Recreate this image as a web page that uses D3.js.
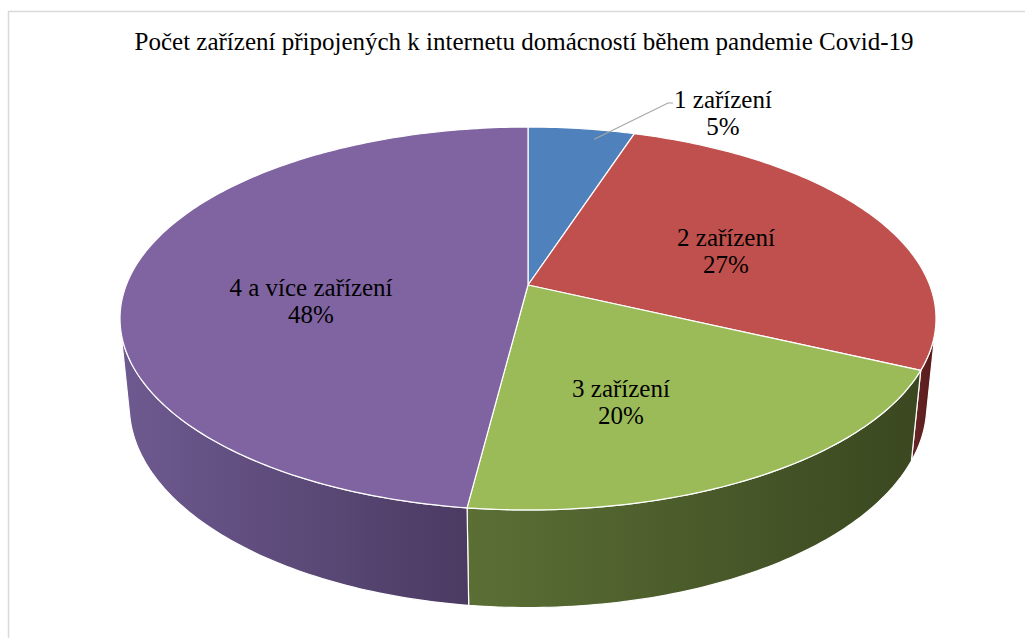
<!DOCTYPE html>
<html>
<head>
<meta charset="utf-8">
<script src="https://cdn.jsdelivr.net/npm/d3@7"></script>
<style>
  html, body { margin: 0; padding: 0; background: #fff; }
  svg { display: block; }
</style>
</head>
<body>
<svg id="chart" width="1025" height="638"></svg>
<script>
// ---- data ----
const title = "Počet zařízení připojených k internetu domácností během pandemie Covid-19";
const categories = ["1 zařízení", "2 zařízení", "3 zařízení", "4 a více zařízení"];
const values = [5, 27, 20, 48];
const percentLabels = ["5%", "27%", "20%", "48%"];

// ---- styles ----
const FONT = "Liberation Serif";
const topColors  = ["#4f81bd", "#c0504d", "#9bbb59", "#8064a2"];
const sideLight  = ["#3c5f8c", "#6a2525", "#5b6f35", "#6e5a90"];
const sideDark   = ["#2c4870", "#551b1b", "#3a4720", "#4b3a62"];

const svg = d3.select("#chart");

// frame
svg.append("rect").attr("x", 8.5).attr("y", 11.5).attr("width", 1030).attr("height", 640)
  .attr("fill", "none").attr("stroke", "#d9d9d9").attr("stroke-width", 1.5);

// title
svg.append("text").attr("x", 524).attr("y", 50).attr("text-anchor", "middle")
  .style("font-family", FONT).attr("font-size", 25).attr("fill", "#000").text(title);

// ---- perspective projection of a flat cylinder ----
const cx = 528, cy = 285;
const phi = 27.52 * Math.PI / 180;
const Dcam = 5.068, focal = 2035.8, thick = 0.2463;
function proj(theta, r, z) {
  const X = r * Math.sin(theta), Y = -r * Math.cos(theta);
  const d = Dcam - Y * Math.cos(phi) - z * Math.sin(phi);
  return [cx + focal * X / d, cy + focal * (Y * Math.sin(phi) - z * Math.cos(phi)) / d];
}

const pie = d3.pie().sort(null).startAngle(0).endAngle(2 * Math.PI);
const arcs = pie(values);
const line = d3.line();

// gradients
const defs = svg.append("defs");
arcs.forEach((a, i) => {
  const g = defs.append("linearGradient").attr("id", "side" + i)
    .attr("x1", "0%").attr("x2", "100%").attr("y1", "0%").attr("y2", "0%");
  g.append("stop").attr("offset", "0%").attr("stop-color", sideLight[i]);
  g.append("stop").attr("offset", "100%").attr("stop-color", sideDark[i]);
});

// visible part of outer wall
const lim = Math.acos(-1 / (Dcam * Math.cos(phi)));
const vis0 = lim, vis1 = 2 * Math.PI - lim;
const sideG = svg.append("g");
arcs.forEach((a, i) => {
  const s = Math.max(a.startAngle, vis0), e = Math.min(a.endAngle, vis1);
  if (e <= s) return;
  const n = 80;
  const ang = d3.range(n + 1).map(k => s + (e - s) * k / n);
  const pts = ang.map(t => proj(t, 1, 0)).concat(ang.slice().reverse().map(t => proj(t, 1, -thick)));
  sideG.append("path").attr("d", line(pts) + "Z")
    .attr("fill", `url(#side${i})`).attr("stroke", "#ffffff").attr("stroke-width", 1.2)
    .attr("stroke-linejoin", "round");
});

// top faces
const topG = svg.append("g");
arcs.forEach((a, i) => {
  const n = Math.max(4, Math.ceil((a.endAngle - a.startAngle) * 60));
  const pts = [proj(0, 0, 0)].concat(d3.range(n + 1).map(k =>
    proj(a.startAngle + (a.endAngle - a.startAngle) * k / n, 1, 0)));
  topG.append("path").attr("d", line(pts) + "Z")
    .attr("fill", topColors[i]).attr("stroke", "#ffffff").attr("stroke-width", 1.2)
    .attr("stroke-linejoin", "round");
});

// labels (anchor positions in px)
const labelPos = [[723, 108], [726, 246], [621, 397], [311, 296]];
const lineGap = 27;
arcs.forEach((a, i) => {
  const [x, y] = labelPos[i];
  const t = svg.append("text").attr("text-anchor", "middle")
    .style("font-family", FONT).attr("font-size", 25).attr("fill", "#000");
  t.append("tspan").attr("x", x).attr("y", y).text(categories[i]);
  t.append("tspan").attr("x", x).attr("y", y + lineGap).text(percentLabels[i]);
});

// leader line for the small slice
const mid0 = (arcs[0].startAngle + arcs[0].endAngle) / 2;
const p0 = proj(mid0 + 0.05, 0.93, 0);
svg.append("path").attr("d", line([p0, [668, 103], [673, 103]]))
  .attr("fill", "none").attr("stroke", "#a6a6a6").attr("stroke-width", 1.2);
</script>
</body>
</html>
